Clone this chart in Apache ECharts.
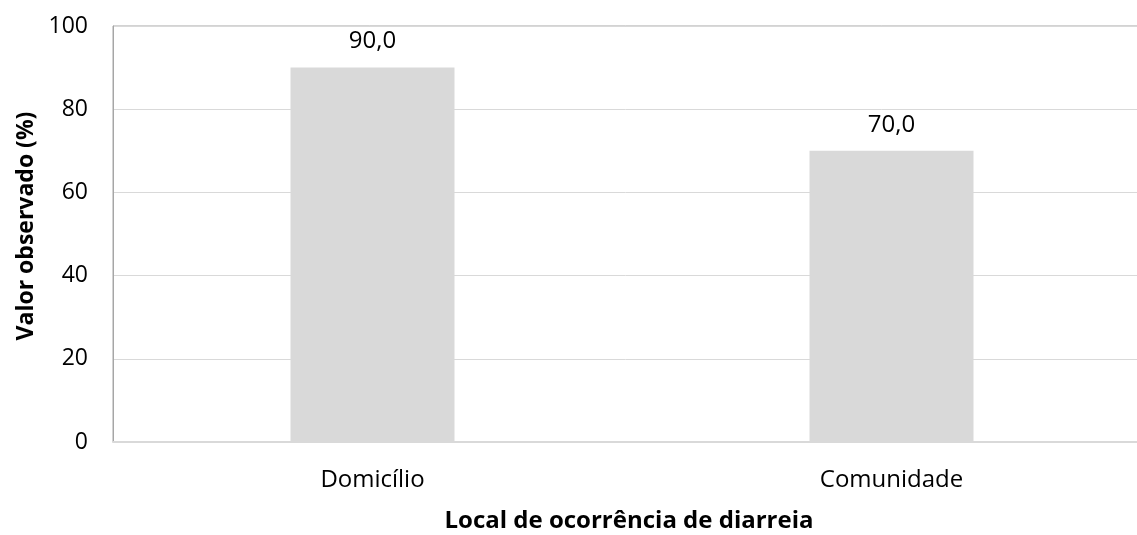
<!DOCTYPE html>
<html>
<head>
<meta charset="utf-8">
<script src="https://cdn.jsdelivr.net/npm/echarts@6/dist/echarts.min.js"></script>
<style>
  html, body { margin: 0; padding: 0; background: #fff; }
  #chart { width: 1137px; height: 535px; }
</style>
</head>
<body>
<div id="chart"></div>
<script>
const categories = ['Domicílio', 'Comunidade'];
const values = [90.0, 70.0];
const yTicks = [0, 20, 40, 60, 80, 100];

const FONT = '"Open Sans", "Noto Sans", sans-serif';

const chart = echarts.init(document.getElementById('chart'));
chart.setOption({
    backgroundColor: '#ffffff',
    animation: false,
    grid: {
        left: 113,
        top: 26,
        right: -14,
        bottom: 93,
        outerBoundsMode: 'none',
        containLabel: false,
        show: true,
        borderColor: '#a6a6a6',
        borderWidth: 1
    },
    xAxis: {
        type: 'category',
        data: categories,
        axisLine: { show: true, lineStyle: { color: '#d9d9d9', width: 2 } },
        axisTick: { show: false },
        axisLabel: { color: '#000', fontFamily: FONT, fontSize: 24, margin: 26 }
    },
    yAxis: {
        type: 'value',
        min: yTicks[0],
        max: yTicks[yTicks.length - 1],
        interval: 20,
        axisLine: { show: true, lineStyle: { color: '#a6a6a6', width: 1 } },
        axisTick: { show: false },
        axisLabel: { color: '#000', fontFamily: FONT, fontSize: 23, margin: 25 },
        splitLine: { show: true, lineStyle: { color: '#d9d9d9', width: 1 } }
    },
    graphic: [
        {
            type: 'text',
            x: 629, y: 521,
            style: {
                text: 'Local de ocorrência de diarreia',
                fontFamily: FONT, fontSize: 24, fontWeight: 'bold', fill: '#000',
                align: 'center', verticalAlign: 'middle'
            }
        },
        {
            type: 'text',
            x: 26, y: 226,
            rotation: Math.PI / 2,
            style: {
                text: 'Valor observado (%)',
                fontFamily: FONT, fontSize: 23, fontWeight: 'bold', fill: '#000',
                align: 'center', verticalAlign: 'middle'
            }
        }
    ],
    series: [{
        type: 'bar',
        data: values,
        barWidth: '31.6%',
        itemStyle: { color: '#d9d9d9' },
        label: {
            show: true,
            position: 'top',
            distance: 14,
            color: '#000',
            fontFamily: FONT,
            fontSize: 24,
            formatter: p => p.value.toFixed(1).replace('.', ',')
        }
    }]
});
</script>
</body>
</html>
